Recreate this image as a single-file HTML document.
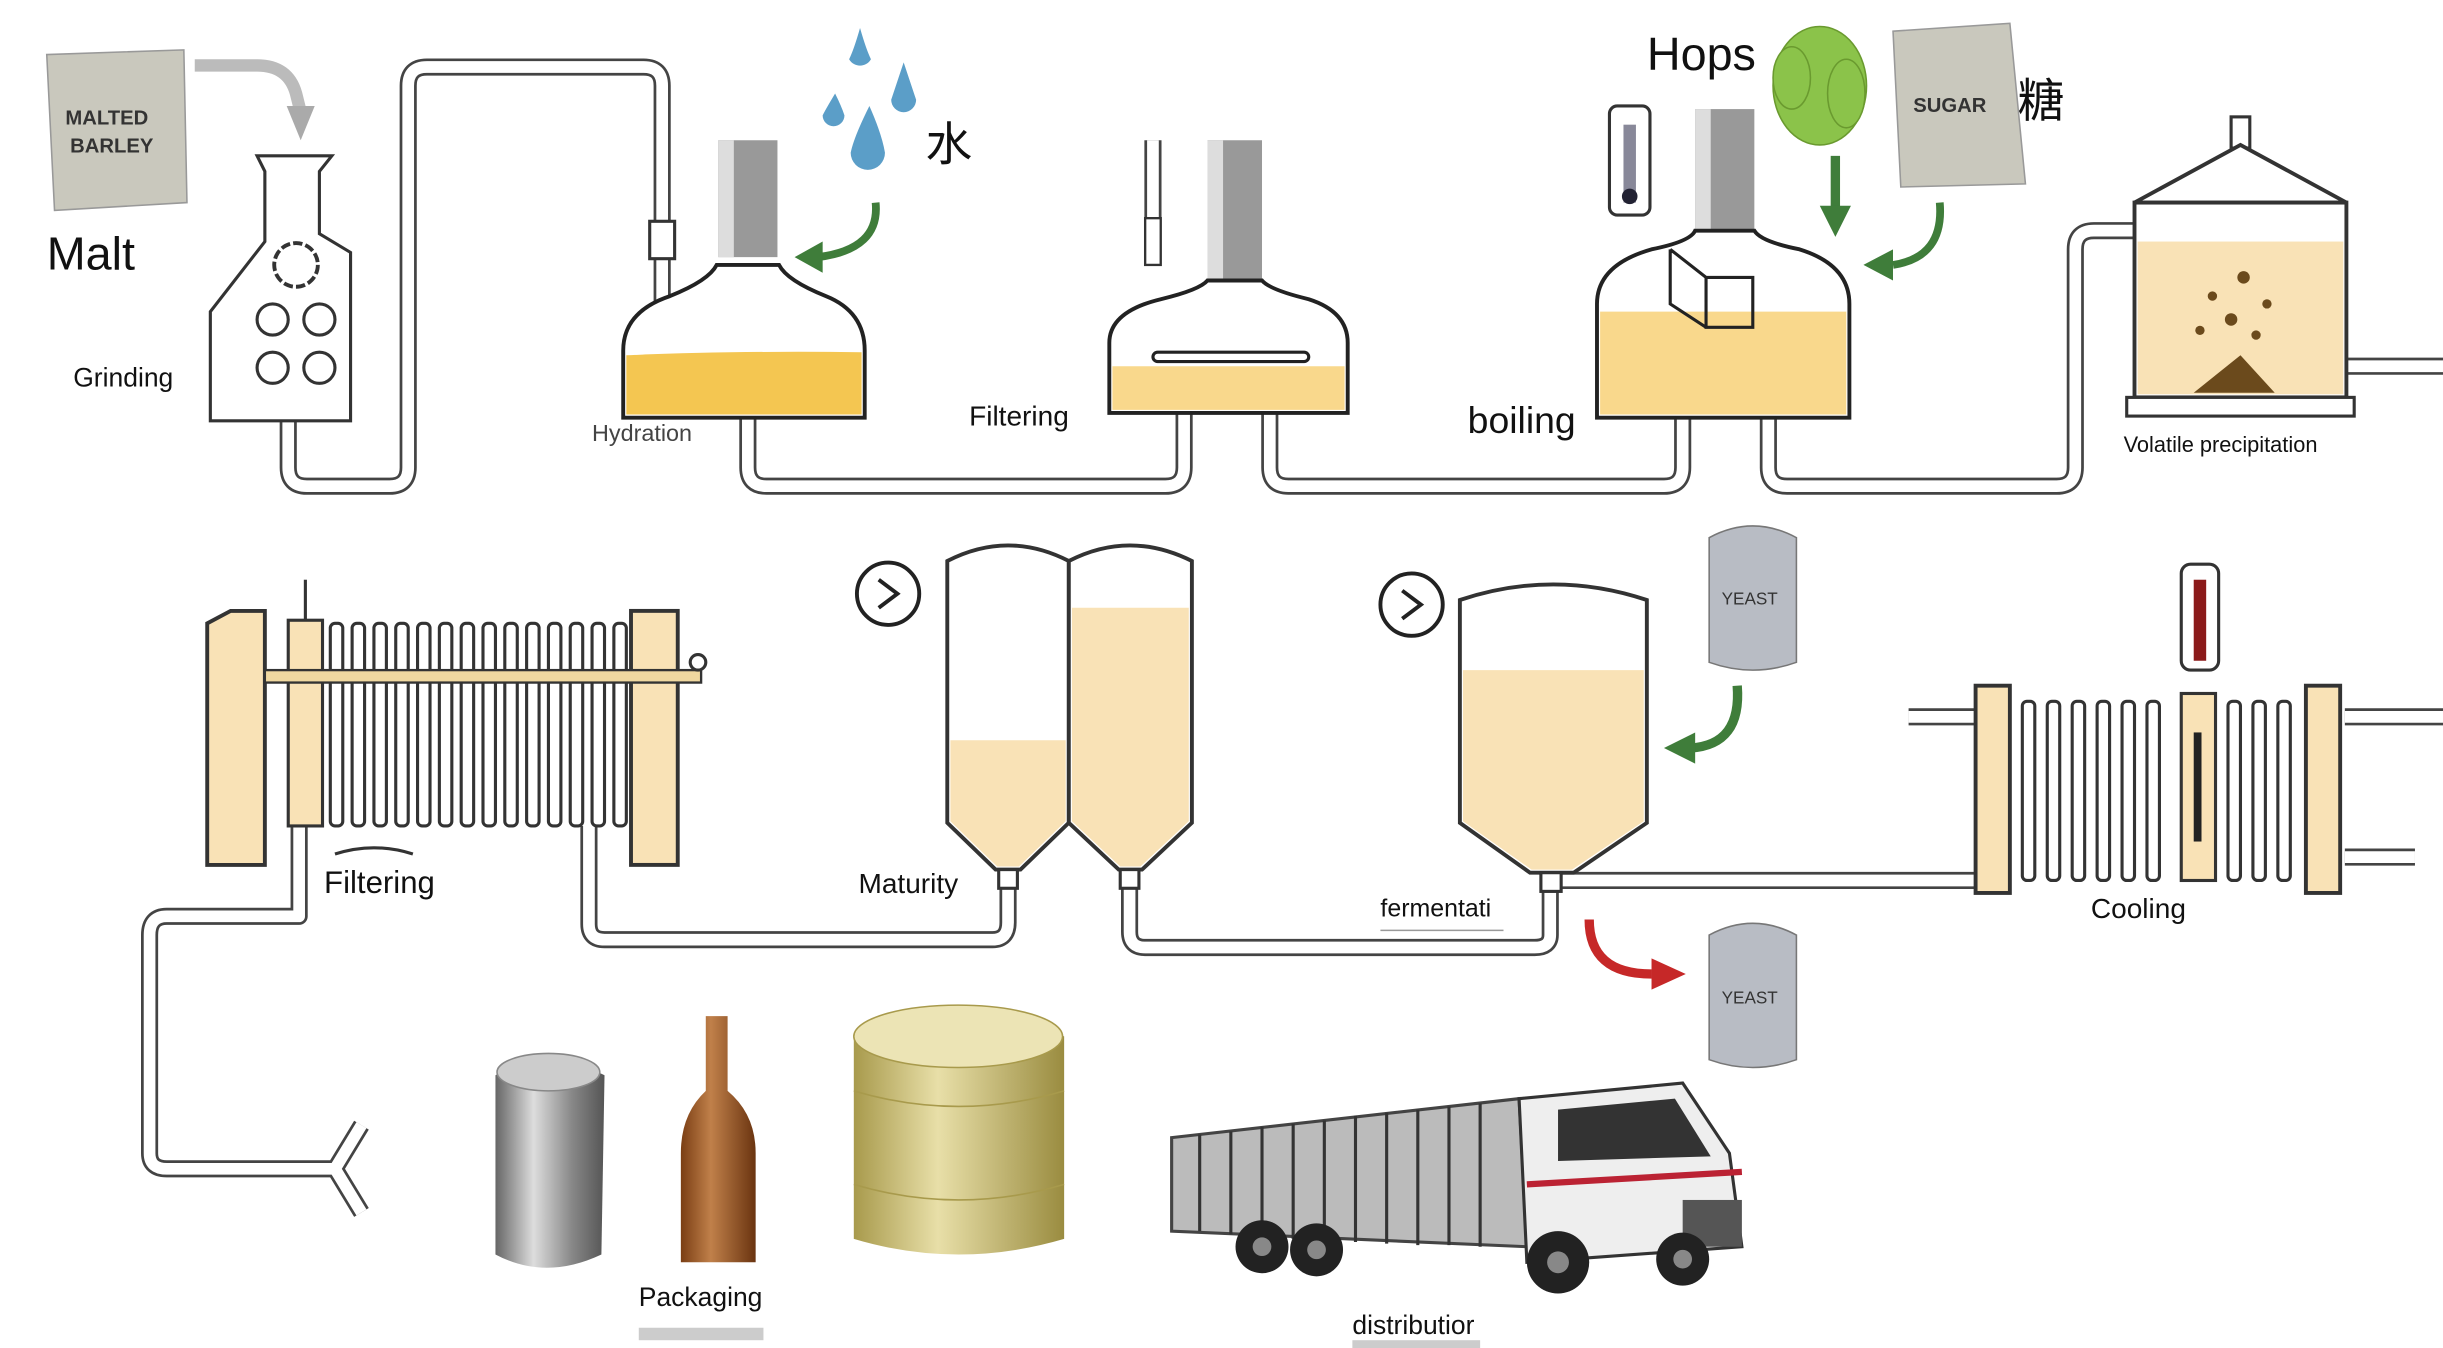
<!DOCTYPE html>
<html><head><meta charset="utf-8"><style>
html,body{margin:0;padding:0;background:#fff;width:2443px;height:1348px;overflow:hidden}
svg{display:block}
text{font-family:"Liberation Sans","Noto Sans CJK SC",sans-serif;fill:#111}
</style></head><body>
<svg width="2443" height="1348" viewBox="0 0 1568 865" preserveAspectRatio="none" xmlns="http://www.w3.org/2000/svg">
<rect width="1568" height="865" fill="#fff"/>
<g fill="none" stroke-linejoin="round" stroke-linecap="butt">
<g stroke="#444" stroke-width="11">
<path d="M185 268 V300 Q185 312 197 312 H250 Q262 312 262 300 V55 Q262 43 274 43 H413 Q425 43 425 55 V200"/>
<path d="M480 268 V300 Q480 312 492 312 H748 Q760 312 760 300 V265"/>
<path d="M815 265 V300 Q815 312 827 312 H1068 Q1080 312 1080 300 V268"/>
<path d="M1135 268 V300 Q1135 312 1147 312 H1320 Q1332 312 1332 300 V160 Q1332 148 1344 148 H1370"/>
<path d="M1507 235 H1568"/>
<path d="M995 570 V600 Q995 608 985 608 H735 Q725 608 725 598 V568"/>
<path d="M647 568 V592 Q647 603 637 603 H388 Q378 603 378 593 V530"/>
<path d="M192 530 V588 H107 Q96 588 96 600 V740 Q96 750 107 750 H215 L232 722 M215 750 L232 778"/>
<path d="M1000 565 H1268"/>
<path d="M1225 460 H1268 M1505 460 H1568 M1505 550 H1550"/>
<path d="M740 90 V170"/>
</g>
<g stroke="#fff" stroke-width="7.5">
<path d="M185 268 V300 Q185 312 197 312 H250 Q262 312 262 300 V55 Q262 43 274 43 H413 Q425 43 425 55 V200"/>
<path d="M480 268 V300 Q480 312 492 312 H748 Q760 312 760 300 V265"/>
<path d="M815 265 V300 Q815 312 827 312 H1068 Q1080 312 1080 300 V268"/>
<path d="M1135 268 V300 Q1135 312 1147 312 H1320 Q1332 312 1332 300 V160 Q1332 148 1344 148 H1370"/>
<path d="M1507 235 H1568"/>
<path d="M995 570 V600 Q995 608 985 608 H735 Q725 608 725 598 V568"/>
<path d="M647 568 V592 Q647 603 637 603 H388 Q378 603 378 593 V530"/>
<path d="M192 530 V588 H107 Q96 588 96 600 V740 Q96 750 107 750 H215 L232 722 M215 750 L232 778"/>
<path d="M1000 565 H1268"/>
<path d="M1225 460 H1268 M1505 460 H1568 M1505 550 H1550"/>
<path d="M740 90 V170"/>
</g>
</g>
<!-- Malt bag -->
<path d="M30 35 L118 32 L120 130 L35 135 Z" fill="#c9c8bd" stroke="#999"/>
<text x="42" y="80" font-size="13" font-weight="bold" style="fill:#333">MALTED</text>
<text x="45" y="98" font-size="13" font-weight="bold" style="fill:#333">BARLEY</text>
<path d="M125 42 H165 Q185 42 190 60 L193 72" fill="none" stroke="#bbb" stroke-width="8"/>
<path d="M184 68 L202 68 L193 90 Z" fill="#aaa"/>
<text x="30" y="173" font-size="30">Malt</text>
<!-- Grinder -->
<path d="M165 100 H213 L205 110 V150 L225 162 V270 H135 V200 L170 155 V110 Z" fill="#fff" stroke="#333" stroke-width="2"/>
<circle cx="190" cy="170" r="14" fill="none" stroke="#333" stroke-width="2.5" stroke-dasharray="6 2"/>
<g fill="none" stroke="#333" stroke-width="2"><circle cx="175" cy="205" r="10"/><circle cx="205" cy="205" r="10"/><circle cx="175" cy="236" r="10"/><circle cx="205" cy="236" r="10"/></g>
<text x="47" y="248" font-size="17">Grinding</text>
<!-- Hydration -->
<rect x="417" y="142" width="16" height="24" fill="#fff" stroke="#333" stroke-width="2"/>
<rect x="461" y="90" width="38" height="75" fill="#999"/>
<rect x="461" y="90" width="10" height="75" fill="#ddd"/>
<path d="M400 268 V225 Q400 200 430 190 Q455 180 460 170 H500 Q505 180 530 190 Q555 200 555 225 V268 Z" fill="#fff" stroke="#222" stroke-width="2.5"/>
<path d="M402 228 Q470 225 553 226 V266 H402 Z" fill="#f4c651"/>
<text x="380" y="283" font-size="15" style="fill:#444">Hydration</text>
<g fill="#5b9ec8"><path d="M552 18 Q548 32 545 38 A8 8 0 0 0 559 38 Q556 32 552 18Z"/><path d="M580 40 Q574 58 572 64 A8 8 0 0 0 588 64 Q585 55 580 40Z"/><path d="M536 60 Q530 70 528 74 A7 7 0 0 0 542 74 Q540 68 536 60Z"/><path d="M558 68 Q548 88 546 98 A11 11 0 0 0 568 98 Q566 86 558 68Z"/></g>
<text x="594" y="103" font-size="30">水</text>
<path d="M562 130 Q565 160 525 165" fill="none" stroke="#3f7d3a" stroke-width="5"/>
<path d="M528 155 L510 165 L528 175 Z" fill="#3f7d3a"/>
<!-- Filtering vessel -->
<rect x="735" y="140" width="10" height="30" fill="#fff" stroke="#333" stroke-width="1.5"/>
<rect x="775" y="90" width="35" height="90" fill="#999"/>
<rect x="775" y="90" width="10" height="90" fill="#ddd"/>
<path d="M712 265 V220 Q712 200 745 192 Q770 186 775 180 H810 Q815 186 840 192 Q865 200 865 220 V265 Z" fill="#fff" stroke="#222" stroke-width="2.5"/>
<path d="M714 235 H863 V263 H714 Z" fill="#f9d88c"/>
<rect x="740" y="226" width="100" height="6" rx="3" fill="#fff" stroke="#222" stroke-width="2"/>
<text x="622" y="273" font-size="18">Filtering</text>
<!-- Boiling -->
<rect x="1033" y="68" width="26" height="70" rx="5" fill="#fff" stroke="#333" stroke-width="2"/>
<rect x="1042" y="80" width="8" height="50" fill="#889"/><circle cx="1046" cy="126" r="5" fill="#223"/>
<rect x="1088" y="70" width="38" height="80" fill="#999"/>
<rect x="1088" y="70" width="10" height="80" fill="#ddd"/>
<path d="M1025 268 V195 Q1025 170 1060 160 Q1085 155 1088 148 H1126 Q1130 155 1155 160 Q1187 170 1187 195 V268 Z" fill="#fff" stroke="#222" stroke-width="2.5"/>
<path d="M1027 200 H1185 V266 H1027 Z" fill="#f9d88c"/>
<path d="M1072 160 L1095 178 V210 H1125 V178 H1095 M1072 160 V195 L1095 210" fill="none" stroke="#222" stroke-width="2"/>
<text x="942" y="278" font-size="24">boiling</text>
<text x="1057" y="45" font-size="30">Hops</text>
<g fill="#8bc34a" stroke="#6a9a2f" stroke-width="1"><ellipse cx="1168" cy="55" rx="30" ry="38"/><ellipse cx="1150" cy="50" rx="12" ry="20"/><ellipse cx="1185" cy="60" rx="12" ry="22"/></g>
<path d="M1178 100 V135" stroke="#3f7d3a" stroke-width="6"/><path d="M1168 132 H1188 L1178 152 Z" fill="#3f7d3a"/>
<path d="M1215 20 L1290 15 L1300 118 L1220 120 Z" fill="#c9c8bd" stroke="#999"/>
<text x="1228" y="72" font-size="13" font-weight="bold" style="fill:#333">SUGAR</text>
<text x="1295" y="75" font-size="30">糖</text>
<path d="M1245 130 Q1248 165 1215 170" fill="none" stroke="#3f7d3a" stroke-width="5"/>
<path d="M1215 160 L1196 170 L1215 180 Z" fill="#3f7d3a"/>
<!-- Volatile precipitation -->
<rect x="1432" y="75" width="12" height="20" fill="#fff" stroke="#333" stroke-width="2"/>
<path d="M1370 130 L1438 93 L1506 130 Z" fill="#fff" stroke="#333" stroke-width="2.5"/>
<rect x="1370" y="130" width="136" height="125" fill="#fff" stroke="#333" stroke-width="2.5"/>
<rect x="1372" y="155" width="132" height="98" fill="#f9e2b6"/>
<path d="M1408 252 L1438 228 L1460 252 Z" fill="#6b4a1c"/>
<g fill="#6b4a1c"><circle cx="1420" cy="190" r="3"/><circle cx="1440" cy="178" r="4"/><circle cx="1455" cy="195" r="3"/><circle cx="1432" cy="205" r="4"/><circle cx="1412" cy="212" r="3"/><circle cx="1448" cy="215" r="3"/></g>
<rect x="1365" y="255" width="146" height="12" fill="#fff" stroke="#333" stroke-width="2"/>
<text x="1363" y="290" font-size="14">Volatile precipitation</text>
<!-- Filter press -->
<path d="M133 400 L148 392 H170 V555 H133 Z" fill="#f9e2b6" stroke="#333" stroke-width="2.5"/>
<rect x="185" y="398" width="22" height="132" fill="#f9e2b6" stroke="#333" stroke-width="2"/>
<rect x="405" y="392" width="30" height="163" fill="#f9e2b6" stroke="#333" stroke-width="2.5"/>
<g fill="#fff" stroke="#333" stroke-width="2">
<rect x="212" y="400" width="8" height="130" rx="3"/><rect x="226" y="400" width="8" height="130" rx="3"/><rect x="240" y="400" width="8" height="130" rx="3"/><rect x="254" y="400" width="8" height="130" rx="3"/><rect x="268" y="400" width="8" height="130" rx="3"/><rect x="282" y="400" width="8" height="130" rx="3"/><rect x="296" y="400" width="8" height="130" rx="3"/><rect x="310" y="400" width="8" height="130" rx="3"/><rect x="324" y="400" width="8" height="130" rx="3"/><rect x="338" y="400" width="8" height="130" rx="3"/><rect x="352" y="400" width="8" height="130" rx="3"/><rect x="366" y="400" width="8" height="130" rx="3"/><rect x="380" y="400" width="8" height="130" rx="3"/><rect x="394" y="400" width="8" height="130" rx="3"/>
</g>
<rect x="170" y="430" width="280" height="8" fill="#f0d8a0" stroke="#333" stroke-width="1.5"/>
<path d="M196 398 V372" stroke="#333" stroke-width="2"/><circle cx="448" cy="425" r="5" fill="#fff" stroke="#333" stroke-width="2"/>
<path d="M215 548 Q240 540 265 548" fill="none" stroke="#333" stroke-width="2"/>
<text x="208" y="573" font-size="20">Filtering</text>
<!-- Maturity -->
<circle cx="570" cy="381" r="20" fill="#fff" stroke="#222" stroke-width="2.5"/>
<path d="M564 372 L576 381 L564 390" fill="none" stroke="#222" stroke-width="2.5"/>
<path d="M608 360 Q647 340 686 360 V528 L655 558 H639 L608 528 Z" fill="#fff" stroke="#333" stroke-width="2.5"/>
<path d="M610 475 H684 V527 L654 556 H640 L610 527 Z" fill="#f9e2b6"/>
<path d="M686 360 Q725 340 765 360 V528 L733 558 H718 L686 528 Z" fill="#fff" stroke="#333" stroke-width="2.5"/>
<path d="M688 390 H763 V527 L732 556 H719 L688 527 Z" fill="#f9e2b6"/>
<rect x="641" y="558" width="12" height="12" fill="#fff" stroke="#333" stroke-width="2"/>
<rect x="719" y="558" width="12" height="12" fill="#fff" stroke="#333" stroke-width="2"/>
<text x="551" y="573" font-size="18">Maturity</text>
<!-- Fermentation -->
<circle cx="906" cy="388" r="20" fill="#fff" stroke="#222" stroke-width="2.5"/>
<path d="M900 379 L912 388 L900 397" fill="none" stroke="#222" stroke-width="2.5"/>
<path d="M937 385 Q997 365 1057 385 V528 L1010 560 H982 L937 528 Z" fill="#fff" stroke="#333" stroke-width="2.5"/>
<path d="M939 430 H1055 V527 L1009 558 H983 L939 527 Z" fill="#f9e2b6"/>
<rect x="989" y="560" width="13" height="12" fill="#fff" stroke="#333" stroke-width="2"/>
<text x="886" y="588" font-size="16">fermentati</text>
<path d="M886 597 H965" stroke="#999" stroke-width="1"/>
<path d="M1097 345 Q1125 330 1153 345 V425 Q1125 435 1097 425 Z" fill="#b8bcc4" stroke="#777"/>
<text x="1105" y="388" font-size="11" style="fill:#333">YEAST</text>
<path d="M1115 440 Q1118 478 1085 480" fill="none" stroke="#3f7d3a" stroke-width="6"/>
<path d="M1088 470 L1068 480 L1088 490 Z" fill="#3f7d3a"/>
<path d="M1020 590 Q1020 625 1060 625" fill="none" stroke="#c62828" stroke-width="6"/>
<path d="M1060 615 L1082 625 L1060 635 Z" fill="#c62828"/>
<path d="M1097 600 Q1125 585 1153 600 V680 Q1125 690 1097 680 Z" fill="#b8bcc4" stroke="#777"/>
<text x="1105" y="644" font-size="11" style="fill:#333">YEAST</text>
<!-- Cooling -->
<rect x="1400" y="362" width="24" height="68" rx="6" fill="#fff" stroke="#333" stroke-width="2"/>
<rect x="1408" y="372" width="8" height="52" fill="#8b1a1a"/>
<rect x="1268" y="440" width="22" height="133" fill="#f9e2b6" stroke="#333" stroke-width="2.5"/>
<rect x="1480" y="440" width="22" height="133" fill="#f9e2b6" stroke="#333" stroke-width="2.5"/>
<g fill="#fff" stroke="#333" stroke-width="2">
<rect x="1298" y="450" width="8" height="115" rx="3"/><rect x="1314" y="450" width="8" height="115" rx="3"/><rect x="1330" y="450" width="8" height="115" rx="3"/><rect x="1346" y="450" width="8" height="115" rx="3"/><rect x="1362" y="450" width="8" height="115" rx="3"/><rect x="1378" y="450" width="8" height="115" rx="3"/><rect x="1430" y="450" width="8" height="115" rx="3"/><rect x="1446" y="450" width="8" height="115" rx="3"/><rect x="1462" y="450" width="8" height="115" rx="3"/>
</g>
<rect x="1400" y="445" width="22" height="120" fill="#f9e2b6" stroke="#333" stroke-width="2"/>
<rect x="1408" y="470" width="5" height="70" fill="#222"/>
<text x="1342" y="589" font-size="18">Cooling</text>
<!-- Packaging -->
<defs>
<linearGradient id="can" x1="0" x2="1"><stop offset="0" stop-color="#666"/><stop offset=".35" stop-color="#ddd"/><stop offset=".7" stop-color="#888"/><stop offset="1" stop-color="#555"/></linearGradient>
<linearGradient id="btl" x1="0" x2="1"><stop offset="0" stop-color="#7a3e14"/><stop offset=".4" stop-color="#c0804a"/><stop offset="1" stop-color="#6a3410"/></linearGradient>
<linearGradient id="keg" x1="0" x2="1"><stop offset="0" stop-color="#a89a4c"/><stop offset=".4" stop-color="#e8dfa8"/><stop offset="1" stop-color="#9a8c40"/></linearGradient>
</defs>
<path d="M318 690 Q350 670 388 690 L386 805 Q350 822 318 805 Z" fill="url(#can)"/>
<ellipse cx="352" cy="688" rx="33" ry="12" fill="#ccc" stroke="#888"/>
<path d="M453 652 H467 V700 Q485 715 485 740 V810 H437 V740 Q437 715 453 700 Z" fill="url(#btl)"/>
<path d="M548 665 Q615 640 683 665 V795 Q615 815 548 795 Z" fill="url(#keg)"/>
<ellipse cx="615" cy="665" rx="67" ry="20" fill="#ece4b5" stroke="#a89a4c"/>
<g stroke="#a89a4c" fill="none"><path d="M548 700 Q615 720 683 700"/><path d="M548 760 Q615 780 683 760"/></g>
<text x="410" y="838" font-size="17">Packaging</text>
<rect x="410" y="852" width="80" height="8" fill="#ccc"/>
<!-- Truck -->
<path d="M752 730 L975 705 L980 800 L752 790 Z" fill="#bbb" stroke="#444" stroke-width="2"/>
<g stroke="#333" stroke-width="2"><path d="M770 728 V790 M790 726 V792 M810 723 V793 M830 721 V795 M850 719 V796 M870 716 V797 M890 714 V798 M910 712 V799 M930 710 V799 M950 708 V800"/></g>
<path d="M975 705 L1080 695 L1110 740 L1118 800 L980 810 Z" fill="#eee" stroke="#333" stroke-width="2"/>
<path d="M1000 712 L1075 705 L1098 742 L1000 745 Z" fill="#333"/>
<path d="M980 760 L1118 752" stroke="#b23" stroke-width="4"/>
<rect x="1080" y="770" width="38" height="30" fill="#555"/>
<g fill="#222"><circle cx="810" cy="800" r="17"/><circle cx="845" cy="802" r="17"/><circle cx="1000" cy="810" r="20"/><circle cx="1080" cy="808" r="17"/></g>
<g fill="#888"><circle cx="810" cy="800" r="6"/><circle cx="845" cy="802" r="6"/><circle cx="1000" cy="810" r="7"/><circle cx="1080" cy="808" r="6"/></g>
<text x="868" y="856" font-size="17">distributior</text>
<rect x="868" y="860" width="82" height="5" fill="#ccc"/>
</svg>
</body></html>
